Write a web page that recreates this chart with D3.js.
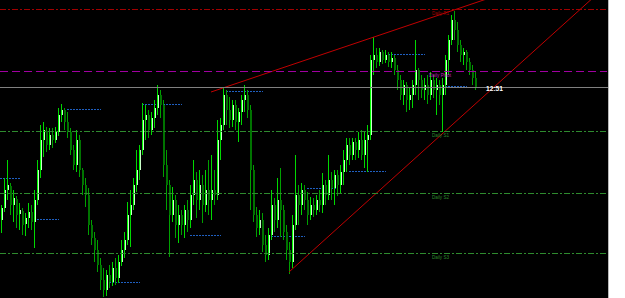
<!DOCTYPE html>
<html><head><meta charset="utf-8">
<script src="https://cdn.jsdelivr.net/npm/d3@7"></script>
<style>html,body{margin:0;padding:0;background:#fff;overflow:hidden}svg{display:block}</style>
</head><body><svg id="c" width="625" height="298"></svg>
<script>
const opens = [
1.3080,1.3092,1.3110,1.3114,1.3095,1.3101,1.3086,1.3089,1.3076,1.3082,
1.3088,1.3078,1.3100,1.3130,1.3160,1.3169,1.3155,1.3165,1.3160,1.3168,
1.3185,1.3190,1.3178,1.3168,1.3150,1.3135,1.3160,1.3130,1.3115,1.3105,
1.3075,1.3062,1.3050,1.3035,1.3020,1.3010,1.3025,1.3018,1.3032,1.3022,
1.3038,1.3050,1.3060,1.3085,1.3095,1.3115,1.3130,1.3150,1.3180,1.3185,
1.3170,1.3182,1.3192,1.3205,1.3195,1.3135,1.3115,1.3085,1.3100,1.3075,
1.3085,1.3075,1.3090,1.3080,1.3105,1.3120,1.3100,1.3115,1.3095,1.3110,
1.3100,1.3110,1.3105,1.3160,1.3175,1.3205,1.3190,1.3180,1.3195,1.3178,
1.3188,1.3200,1.3205,1.3190,1.3130,1.3085,1.3072,1.3080,1.3055,1.3045,
1.3065,1.3095,1.3080,1.3100,1.3090,1.3068,1.3050,1.3038,1.3075,1.3105,
1.3095,1.3110,1.3100,1.3085,1.3095,1.3090,1.3100,1.3095,1.3115,1.3105,
1.3120,1.3112,1.3125,1.3115,1.3128,1.3140,1.3155,1.3145,1.3158,1.3150,
1.3160,1.3145,1.3160,1.3165,1.3240,1.3245,1.3238,1.3248,1.3240,1.3245,
1.3238,1.3242,1.3230,1.3220,1.3205,1.3215,1.3200,1.3205,1.3215,1.3230,
1.3220,1.3210,1.3215,1.3205,1.3220,1.3210,1.3215,1.3205,1.3215,1.3240,
1.3260,1.3280,1.3270,1.3255,1.3245,1.3248,1.3238,1.3230,1.3222];
const highs = [
1.3095,1.3122,1.3140,1.3117,1.3110,1.3104,1.3097,1.3092,1.3087,1.3097,
1.3095,1.3110,1.3140,1.3175,1.3178,1.3173,1.3172,1.3172,1.3173,1.3192,
1.3196,1.3192,1.3188,1.3172,1.3155,1.3170,1.3165,1.3132,1.3122,1.3112,
1.3080,1.3068,1.3060,1.3042,1.3032,1.3030,1.3035,1.3038,1.3042,1.3045,
1.3060,1.3068,1.3098,1.3110,1.3122,1.3150,1.3155,1.3197,1.3195,1.3190,
1.3188,1.3200,1.3215,1.3210,1.3200,1.3150,1.3120,1.3113,1.3105,1.3095,
1.3090,1.3095,1.3100,1.3115,1.3140,1.3128,1.3130,1.3125,1.3130,1.3140,
1.3145,1.3130,1.3180,1.3182,1.3212,1.3210,1.3203,1.3200,1.3200,1.3192,
1.3205,1.3215,1.3210,1.3195,1.3135,1.3093,1.3090,1.3087,1.3065,1.3072,
1.3110,1.3102,1.3122,1.3132,1.3095,1.3075,1.3058,1.3085,1.3145,1.3115,
1.3117,1.3115,1.3108,1.3103,1.3102,1.3105,1.3110,1.3127,1.3120,1.3145,
1.3128,1.3130,1.3130,1.3135,1.3150,1.3162,1.3162,1.3162,1.3162,1.3168,
1.3170,1.3168,1.3175,1.3245,1.3263,1.3252,1.3252,1.3250,1.3250,1.3248,
1.3248,1.3245,1.3235,1.3225,1.3220,1.3218,1.3212,1.3220,1.3260,1.3232,
1.3225,1.3222,1.3225,1.3228,1.3225,1.3222,1.3220,1.3222,1.3245,1.3265,
1.3285,1.3289,1.3278,1.3260,1.3252,1.3250,1.3242,1.3235,1.3228];
const lows = [
1.3067,1.3088,1.3100,1.3085,1.3078,1.3072,1.3070,1.3065,1.3064,1.3072,
1.3070,1.3052,1.3095,1.3122,1.3143,1.3148,1.3150,1.3152,1.3157,1.3164,
1.3178,1.3170,1.3162,1.3145,1.3130,1.3128,1.3123,1.3105,1.3093,1.3065,
1.3055,1.3038,1.3028,1.3010,1.3003,1.3004,1.3012,1.3014,1.3015,1.3017,
1.3034,1.3042,1.3055,1.3053,1.3090,1.3108,1.3120,1.3145,1.3160,1.3162,
1.3165,1.3172,1.3185,1.3182,1.3123,1.3090,1.3043,1.3078,1.3062,1.3057,
1.3065,1.3062,1.3068,1.3072,1.3095,1.3082,1.3090,1.3077,1.3088,1.3085,
1.3080,1.3095,1.3100,1.3140,1.3170,1.3175,1.3172,1.3173,1.3170,1.3158,
1.3175,1.3188,1.3182,1.3090,1.3078,1.3063,1.3065,1.3048,1.3038,1.3040,
1.3060,1.3068,1.3072,1.3063,1.3060,1.3040,1.3026,1.3032,1.3070,1.3075,
1.3085,1.3090,1.3075,1.3080,1.3083,1.3085,1.3088,1.3087,1.3095,1.3100,
1.3100,1.3095,1.3104,1.3107,1.3115,1.3128,1.3135,1.3140,1.3140,1.3142,
1.3140,1.3132,1.3128,1.3160,1.3225,1.3232,1.3234,1.3236,1.3237,1.3233,
1.3232,1.3225,1.3210,1.3200,1.3195,1.3188,1.3190,1.3192,1.3205,1.3200,
1.3202,1.3200,1.3196,1.3200,1.3202,1.3185,1.3195,1.3168,1.3205,1.3225,
1.3255,1.3260,1.3248,1.3238,1.3235,1.3230,1.3225,1.3215,1.3210];
const closes = [
1.3092,1.3110,1.3115,1.3095,1.3102,1.3085,1.3090,1.3075,1.3082,1.3088,
1.3078,1.3100,1.3130,1.3160,1.3170,1.3155,1.3165,1.3160,1.3168,1.3185,
1.3190,1.3178,1.3168,1.3150,1.3135,1.3160,1.3130,1.3115,1.3105,1.3075,
1.3062,1.3050,1.3035,1.3020,1.3010,1.3025,1.3018,1.3032,1.3022,1.3038,
1.3050,1.3060,1.3085,1.3095,1.3115,1.3130,1.3150,1.3180,1.3185,1.3170,
1.3182,1.3192,1.3205,1.3195,1.3135,1.3115,1.3085,1.3100,1.3075,1.3085,
1.3075,1.3090,1.3080,1.3105,1.3120,1.3100,1.3115,1.3095,1.3110,1.3100,
1.3110,1.3105,1.3160,1.3175,1.3205,1.3190,1.3180,1.3195,1.3178,1.3188,
1.3200,1.3205,1.3190,1.3130,1.3085,1.3072,1.3080,1.3055,1.3045,1.3065,
1.3095,1.3080,1.3100,1.3090,1.3068,1.3050,1.3038,1.3075,1.3105,1.3095,
1.3110,1.3100,1.3085,1.3095,1.3090,1.3100,1.3095,1.3115,1.3105,1.3120,
1.3112,1.3125,1.3115,1.3128,1.3140,1.3155,1.3145,1.3158,1.3150,1.3160,
1.3145,1.3160,1.3165,1.3240,1.3245,1.3238,1.3248,1.3240,1.3245,1.3238,
1.3242,1.3230,1.3220,1.3205,1.3215,1.3200,1.3205,1.3215,1.3230,1.3220,
1.3210,1.3215,1.3205,1.3220,1.3210,1.3215,1.3205,1.3215,1.3240,1.3260,
1.3280,1.3270,1.3255,1.3245,1.3248,1.3238,1.3230,1.3222,1.3213];

const pivotNames  = ["Daily R1","Daily Pivot","Daily S1","Daily S2","Daily S3"];
const pivotPrices = [1.3291, 1.3229, 1.3169, 1.3107, 1.3047];
const pivotKinds  = ["r","p","s","s","s"];

const clockLabel = "12:51";

// day high/low markers: [fromCandle, toCandle, price]
const dayMarks = [
  [0,6,1.3122],[10,19,1.3081],[22,33,1.3191],[35,46,1.3018],
  [47,60,1.3196],[63,73,1.3065],[75,87,1.3209],[90,101,1.3064],
  [102,112,1.3112],[116,128,1.3129],[129,141,1.3246],[143,155,1.3214]
];
// trend lines: [candle1, price1, candle2, price2]
const trendLines = [
  [70, 1.3208, 150, 1.3289],
  [96, 1.3028, 147, 1.3166]
];

const W = 625, H = 298, PR = 608;
const svg = d3.select("#c");
svg.append("rect").attr("width", W).attr("height", H).attr("fill", "#fff");
svg.append("rect").attr("width", PR).attr("height", H).attr("fill", "#000");
svg.append("line").attr("x1", PR + 0.5).attr("x2", PR + 0.5).attr("y1", 0).attr("y2", H)
  .attr("stroke", "#b8b8b8");

svg.append("defs").append("clipPath").attr("id", "pc")
  .append("rect").attr("width", PR).attr("height", H);
const g = svg.append("g").attr("clip-path", "url(#pc)");

const x = d3.scaleLinear().domain([0, closes.length - 1]).range([1, 475]);
const y = d3.scaleLinear().domain([1.3002, 1.3300]).range([298, 0]);
const ry = v => Math.round(y(v));

const candles = closes.map((c, i) => ({i, o: opens[i], h: highs[i], l: lows[i], c}));

// day markers (blue dotted)
g.selectAll(".dm").data(dayMarks).join("line")
  .attr("x1", d => d[0] === 0 ? 0 : Math.round(x(d[0])))
  .attr("x2", d => Math.round(x(d[1])) + 1)
  .attr("y1", d => ry(d[2]) + 0.5).attr("y2", d => ry(d[2]) + 0.5)
  .attr("stroke", "#1f5fc0").attr("stroke-dasharray", "2,1");

// candles
const cg = g.append("g");
candles.forEach(d => {
  const cx = Math.round(x(d.i));
  const up = d.c >= d.o;
  cg.append("rect").attr("x", cx).attr("y", ry(d.h)).attr("width", 1)
    .attr("height", Math.max(1, ry(d.l) - ry(d.h)))
    .attr("fill", up ? "#00d800" : "#00a000");
  const top = ry(Math.max(d.o, d.c)), bot = ry(Math.min(d.o, d.c));
  const bh = Math.max(1, bot - top);
  if (up) {
    cg.append("rect").attr("x", cx).attr("y", top).attr("width", 1).attr("height", bh).attr("fill", "#00ff00");
    cg.append("rect").attr("x", cx + 1).attr("y", top).attr("width", 1).attr("height", bh).attr("fill", "#c8ffc8");
  } else {
    cg.append("rect").attr("x", cx).attr("y", top).attr("width", 2).attr("height", bh).attr("fill", "#007400");
  }
});

// trend lines (rays to the right)
const xEnd = x.invert(PR);
g.selectAll(".tl").data(trendLines).join("line")
  .attr("x1", d => x(d[0])).attr("y1", d => y(d[1]))
  .attr("x2", x(xEnd))
  .attr("y2", d => y(d[1] + (d[3] - d[1]) / (d[2] - d[0]) * (xEnd - d[0])))
  .attr("stroke", "#c00000").attr("stroke-width", 1);

// pivot lines
const pcol = {r: "#a00000", p: "#a000a0", s: "#2e8b2e"};
const pdash = {r: "6,2,2,2", p: "8,4", s: "6,2,2,2"};
pivotPrices.forEach((p, k) => {
  const kind = pivotKinds[k];
  g.append("line").attr("x1", 0).attr("x2", PR - 1)
    .attr("y1", ry(p) + 0.5).attr("y2", ry(p) + 0.5)
    .attr("stroke", pcol[kind]).attr("stroke-dasharray", pdash[kind]);
  g.append("text").attr("x", kind === "p" ? 429 : 432).attr("y", ry(p) + 5.5)
    .attr("font-family", "Liberation Sans, Arial, sans-serif").attr("font-size", 5.5)
    .attr("textLength", kind === "p" ? 22 : 17).attr("lengthAdjust", "spacingAndGlyphs")
    .attr("fill", kind === "p" ? "#c020c0" : pcol[kind]).text(pivotNames[k]);
});

// current price line
const last = closes[closes.length - 1];
g.append("line").attr("x1", 0).attr("x2", PR).attr("y1", ry(last) + 0.5).attr("y2", ry(last) + 0.5)
  .attr("stroke", "#808080");
g.append("text").attr("x", 486).attr("y", ry(last) + 3.5)
  .attr("font-family", "Liberation Sans, Arial, sans-serif").attr("font-size", 7.5).attr("font-weight", "bold")
  .attr("textLength", 17).attr("lengthAdjust", "spacingAndGlyphs")
  .attr("fill", "#fff").text(clockLabel);
</script>
</body></html>
